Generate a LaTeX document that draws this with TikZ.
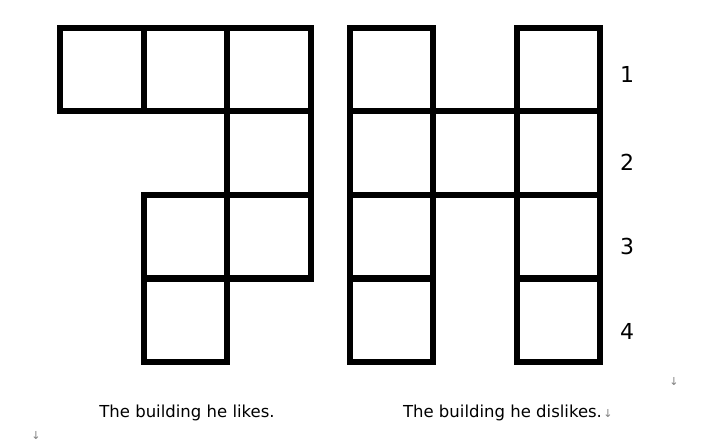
\documentclass[tikz,border=0pt]{standalone}
\usepackage{fontspec}
\setmainfont{DejaVu Sans}
\usetikzlibrary{positioning}

\begin{document}
\begin{tikzpicture}[
    x=1pt, y=-1pt,
    node distance=0pt,
    room/.style={rectangle, draw=black, line width=6pt, minimum size=83.5pt, inner sep=0pt, outer sep=0pt},
    floornum/.style={font=\fontsize{22}{26}\selectfont, inner sep=0pt},
    caption/.style={font=\fontsize{16.5}{20}\selectfont, anchor=base, inner sep=0pt},
    parmark/.style={font=\fontsize{11}{12}\selectfont, text=gray, inner sep=0pt}
]
    \useasboundingbox (0,0) rectangle (701,446);

    % Building he likes
    \node[room] (l1a) at (101.75,69.75) {};
    \node[room, right=of l1a] (l1b) {};
    \node[room, right=of l1b] (l1c) {};
    \node[room, below=of l1c] (l2c) {};
    \node[room, below=of l2c] (l3c) {};
    \node[room, left=of l3c] (l3b) {};
    \node[room, below=of l3b] (l4b) {};

    % Building he dislikes
    \node[room] (d1a) at (391.5,69.75) {};
    \node[room, below=of d1a] (d2a) {};
    \node[room, below=of d2a] (d3a) {};
    \node[room, below=of d3a] (d4a) {};
    \node[room, right=of d2a] (d2b) {};
    \node[room, right=of d2b] (d2c) {};
    \node[room, above=of d2c] (d1c) {};
    \node[room, below=of d2c] (d3c) {};
    \node[room, below=of d3c] (d4c) {};

    % Floor numbers
    \node[floornum] (f1) at (627,74.7) {1};
    \node[floornum] (f2) at (627,162) {2};
    \node[floornum] (f3) at (627,246) {3};
    \node[floornum] (f4) at (627,331) {4};

    % Captions
    \node[caption] (caplikes) at (187,417.7) {The building he likes.};
    \node[caption] (capdislikes) at (502.5,417.7) {The building he dislikes.};

    % Paragraph marks
    \node[parmark] (pm1) at (674,382) {↓};
    \node[parmark, right=1pt of capdislikes.base east, anchor=base west] (pm2) {↓};
    \node[parmark] (pm3) at (36,436) {↓};

\end{tikzpicture}
\end{document}
